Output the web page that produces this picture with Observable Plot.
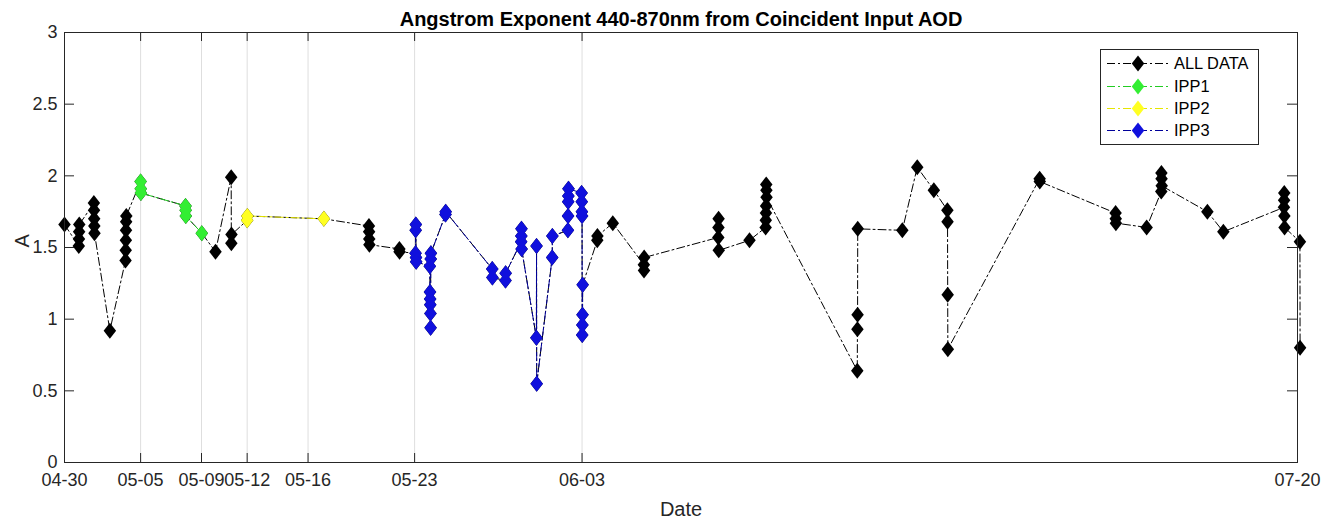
<!DOCTYPE html>
<html><head><meta charset="utf-8">
<script src="https://cdn.jsdelivr.net/npm/d3@7"></script>
<script src="https://cdn.jsdelivr.net/npm/@observablehq/plot@0.6"></script>
<style>
html,body{margin:0;padding:0;background:#fff;}
#chart{position:relative;width:1336px;height:519px;overflow:hidden;}
</style></head><body><div id="chart"></div>
<script>
// ---------- data ----------
const chartTitle = "Angstrom Exponent 440-870nm from Coincident Input AOD";
const xLabel = "Date";
const yLabel = "A";
const startDate = "2019-04-30";
const endDate = "2019-07-20";
const tickDays = ["2019-04-30","2019-05-05","2019-05-09","2019-05-12","2019-05-16","2019-05-23","2019-06-03","2019-07-20"];
const gridDays = ["2019-05-05","2019-05-09","2019-05-12","2019-05-16","2019-05-23","2019-06-03"];
const yTicks = [0, 0.5, 1, 1.5, 2, 2.5, 3];
const seriesNames = ["ALL DATA", "IPP1", "IPP2", "IPP3"];

// day offset (from 04-30) of each measurement cluster
const clusterDay = [0.00, 0.94, 1.93, 2.98, 4.01, 5.00, 7.95, 9.02, 9.92, 10.95,
  12.00, 17.04, 20.00, 22.00, 23.06, 24.00, 25.03, 28.10, 28.97, 30.00,
  31.00, 32.04, 33.07, 33.97, 35.00, 36.02, 38.06, 42.95, 45.00, 46.06,
  52.08, 55.04, 56.02, 57.11, 58.00, 64.06, 69.05, 71.09, 72.05, 75.08,
  76.13, 80.11, 81.16];
// which sub-period the cluster belongs to (0 = none)
const clusterPeriod = [0, 0, 0, 0, 0, 1, 1, 1, 0, 0,
  2, 2, 0, 0, 3, 3, 3, 3, 3, 3,
  3, 3, 3, 3, 0, 0, 0, 0, 0, 0,
  0, 0, 0, 0, 0, 0, 0, 0, 0, 0,
  0, 0, 0];
// Angstrom exponent values in each cluster, in time order
const clusterValues = [
  [1.66], [1.51, 1.56, 1.61, 1.66], [1.81, 1.76, 1.70, 1.65, 1.60], [0.92],
  [1.41, 1.48, 1.55, 1.62, 1.68, 1.72], [1.96, 1.91, 1.88], [1.79, 1.76, 1.72], [1.60],
  [1.47], [1.99, 1.53, 1.59],
  [1.69, 1.72], [1.70], [1.65, 1.61, 1.56, 1.52], [1.49, 1.47],
  [1.46, 1.62, 1.66, 1.43, 1.40], [1.37, 1.19, 1.14, 1.10, 1.04, 0.94, 1.42, 1.46],
  [1.73, 1.75], [1.35, 1.29], [1.27, 1.32], [1.54, 1.58, 1.63, 1.49],
  [0.87, 1.51, 0.55], [1.43, 1.58], [1.62, 1.72, 1.82, 1.86, 1.91],
  [1.88, 1.82, 1.75, 1.72, 0.89, 0.96, 1.03, 1.24],
  [1.55, 1.58], [1.67], [1.38, 1.34, 1.43], [1.57, 1.64, 1.70, 1.48], [1.55],
  [1.64, 1.69, 1.74, 1.79, 1.94, 1.90, 1.85],
  [0.64, 0.93, 1.03, 1.63], [1.62], [2.06], [1.90], [1.76, 1.68, 1.17, 0.79],
  [1.98, 1.96], [1.74, 1.70, 1.67], [1.64], [1.89, 2.02, 1.98, 1.93], [1.75],
  [1.61], [1.78, 1.83, 1.88, 1.72, 1.64], [1.54, 0.80]
];

// ---------- build table ----------
const t0 = new Date(startDate).getTime();
const rows = [];
clusterDay.forEach((d, i) => {
  clusterValues[i].forEach((v, j) => {
    rows.push({date: new Date(t0 + (d + j * 0.01) * 864e5), A: v, period: clusterPeriod[i]});
  });
});
const tickDates = tickDays.map(s => new Date(s));
const gridDates = gridDays.map(s => new Date(s));

// ---------- style ----------
const W = 1336, H = 519, mL = 64, mR = 39, mT = 32, mB = 57;
const fw = W - mL - mR, fh = H - mT - mB;
const axisColor = "#262626";
const lineColors = ["#000000", "#22cc22", "#e6e600", "#00009a"];
const markColors = ["#000000", "#33ee33", "#ffff22", "#1010dd"];
const dash = "8,3,2,3";
const markR = 8;
const diamond = {draw(ctx, size) {
  const r = Math.sqrt(size / Math.PI), w = r * 0.78;
  ctx.moveTo(0, -r); ctx.lineTo(w, 0); ctx.lineTo(0, r); ctx.lineTo(-w, 0); ctx.closePath();
}};
const font = "'Liberation Sans', Arial, Helvetica, sans-serif";

const seriesMarks = [];
seriesNames.forEach((name, k) => {
  const data = k === 0 ? rows : rows.filter(r => r.period === k);
  seriesMarks.push(Plot.line(data, {x: "date", y: "A", stroke: lineColors[k], strokeWidth: 1, strokeDasharray: dash}));
  seriesMarks.push(Plot.dot(data, {x: "date", y: "A", symbol: diamond, r: markR, fill: markColors[k], stroke: "none"}));
});

const plot = Plot.plot({
  width: W, height: H,
  marginLeft: mL, marginRight: mR, marginTop: mT, marginBottom: mB,
  style: {fontFamily: font, fontSize: "18px", color: axisColor, background: "#fff", overflow: "visible"},
  x: {type: "utc", domain: [new Date(startDate), new Date(endDate)]},
  y: {domain: [0, 3]},
  marks: [
    Plot.ruleX(gridDates, {x: d => d, stroke: "#dedede", strokeWidth: 1}),
    ...seriesMarks,
    Plot.frame({stroke: axisColor, strokeWidth: 1}),
    Plot.tickX(tickDates, {x: d => d, insetTop: fh - 9, stroke: axisColor}),
    Plot.tickX(tickDates, {x: d => d, insetBottom: fh - 9, stroke: axisColor}),
    Plot.tickY(yTicks, {y: d => d, insetRight: fw - 10, stroke: axisColor}),
    Plot.tickY(yTicks, {y: d => d, insetLeft: fw - 10, stroke: axisColor}),
    Plot.axisX({ticks: tickDates, tickFormat: d3.utcFormat("%m-%d"), tickSize: 0, tickPadding: 11, label: null, fontSize: 18, fill: axisColor}),
    Plot.axisY({ticks: yTicks, tickFormat: d => String(d), tickSize: 0, tickPadding: 7, label: null, fontSize: 18, fill: axisColor}),
    Plot.text([chartTitle], {frameAnchor: "top", dy: -13.4, fontSize: 20, fontWeight: "bold", fill: "#000", lineAnchor: "middle"}),
    Plot.text([xLabel], {frameAnchor: "bottom", dy: 46.6, fontSize: 20, fill: axisColor, lineAnchor: "middle"}),
    Plot.text([yLabel], {frameAnchor: "left", dx: -42, rotate: -90, fontSize: 20, fill: axisColor, lineAnchor: "middle"})
  ]
});
document.getElementById("chart").appendChild(plot);

// ---------- legend (inside the axes, top-right) ----------
const svg = d3.select(plot);
const lg = svg.append("g").attr("font-family", font).attr("font-size", 16.4).attr("text-anchor", "start");
const bx = 1100.5, by = 49.5, bw = 158, bh = 95;
lg.append("rect").attr("x", bx).attr("y", by).attr("width", bw).attr("height", bh)
  .attr("fill", "#fff").attr("stroke", axisColor).attr("stroke-width", 1);
const rowY = [63.5, 86.5, 108.5, 130.5];
seriesNames.forEach((name, k) => {
  const y = rowY[k];
  lg.append("line").attr("x1", 1107).attr("x2", 1169).attr("y1", y).attr("y2", y)
    .attr("stroke", lineColors[k]).attr("stroke-width", 1).attr("stroke-dasharray", dash);
  lg.append("path").attr("d", d3.symbol(diamond, Math.PI * markR * markR)()).attr("transform", `translate(1138,${y})`)
    .attr("fill", markColors[k]);
  lg.append("text").attr("x", 1174).attr("y", y).attr("dy", "0.35em").attr("text-anchor", "start").attr("fill", "#000").text(name);
});
</script></body></html>
